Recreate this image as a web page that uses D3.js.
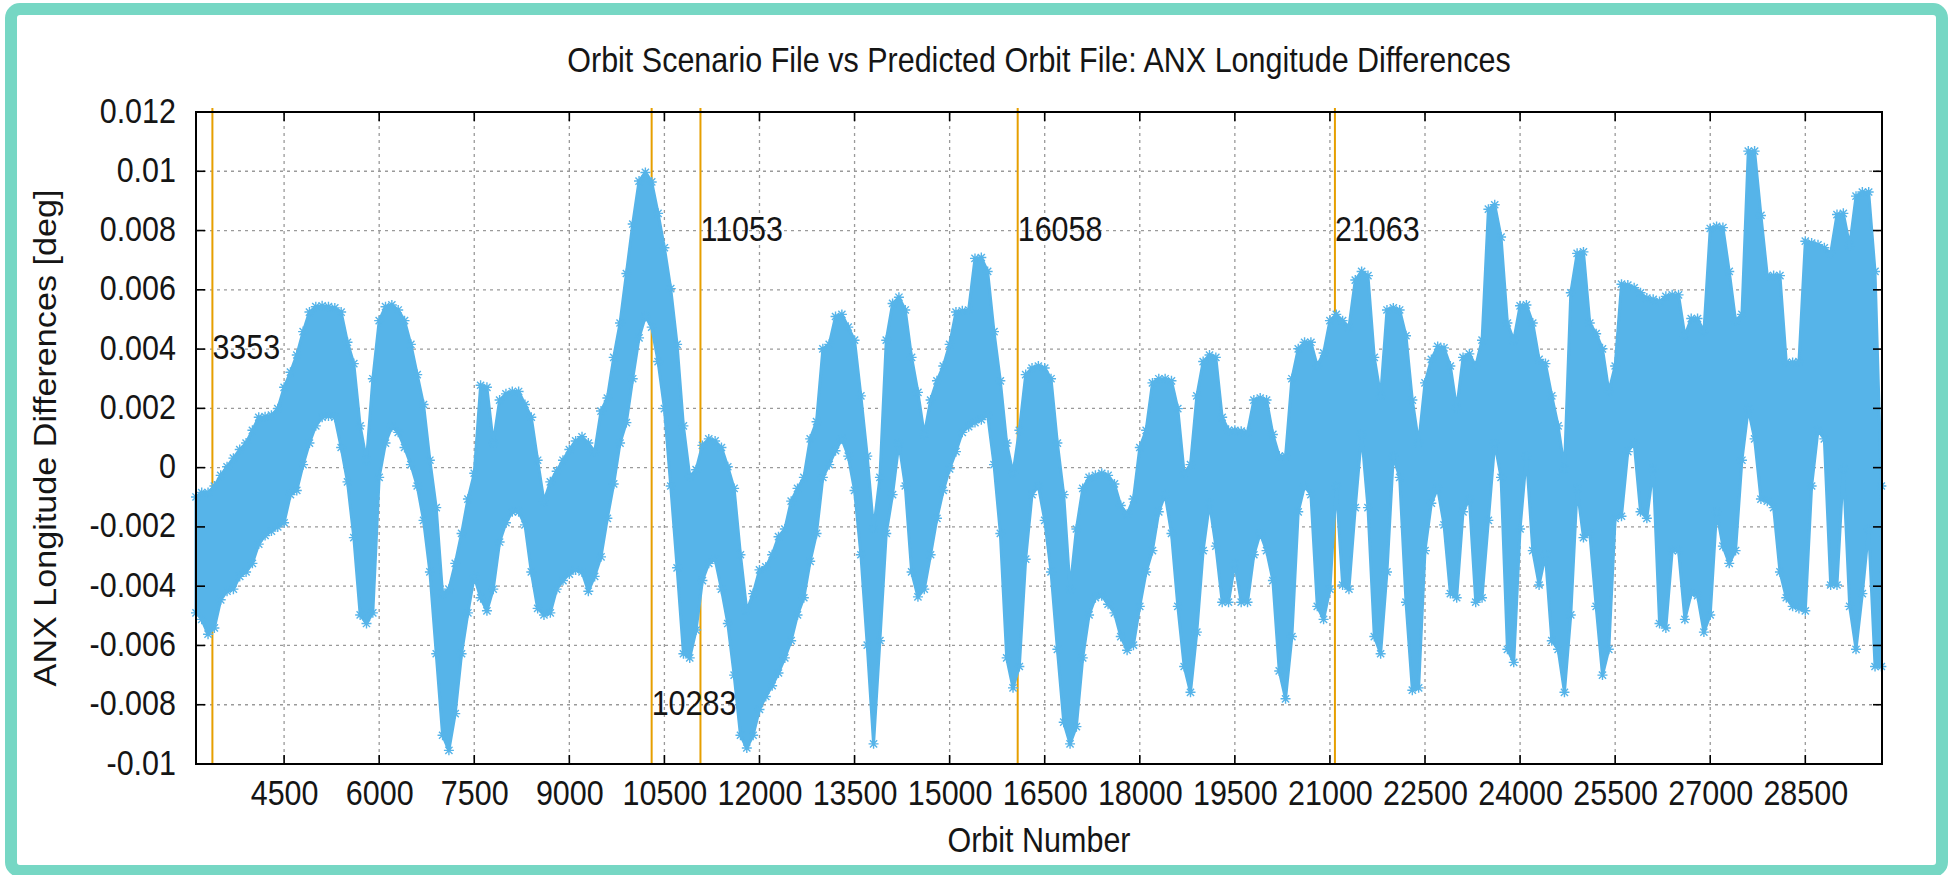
<!DOCTYPE html>
<html>
<head>
<meta charset="utf-8">
<script src="https://cdn.jsdelivr.net/npm/d3@7"></script>
<style>
  body { margin: 0; background: #ffffff; }
  text { font-family: "Liberation Sans", Arial, sans-serif; fill: #151515; }
</style>
</head>
<body>
<div id="main"></div>
<script>
// **** Data (orbit number vs envelope of the ANX longitude differences, 1e-3 deg) ****
var orbits = [3110,
  3200,3300,3400,3500,3600,3700,3800,3900,4000,
  4100,4200,4300,4400,4500,4600,4700,4800,4900,5000,
  5100,5200,5300,5400,5500,5600,5700,5800,5900,6000,
  6100,6200,6300,6400,6500,6600,6700,6800,6900,7000,
  7100,7200,7300,7400,7500,7600,7700,7800,7900,8000,
  8100,8200,8300,8400,8500,8600,8700,8800,8900,9000,
  9100,9200,9300,9400,9500,9600,9700,9800,9900,10000,
  10100,10200,10300,10400,10500,10600,10700,10800,10900,11000,
  11100,11200,11300,11400,11500,11600,11700,11800,11900,12000,
  12100,12200,12300,12400,12500,12600,12700,12800,12900,13000,
  13100,13200,13300,13400,13500,13600,13700,13800,13900,14000,
  14100,14200,14300,14400,14500,14600,14700,14800,14900,15000,
  15100,15200,15300,15400,15500,15600,15700,15800,15900,16000,
  16100,16200,16300,16400,16500,16600,16700,16800,16900,17000,
  17100,17200,17300,17400,17500,17600,17700,17800,17900,18000,
  18100,18200,18300,18400,18500,18600,18700,18800,18900,19000,
  19100,19200,19300,19400,19500,19600,19700,19800,19900,20000,
  20100,20200,20300,20400,20500,20600,20700,20800,20900,21000,
  21100,21200,21300,21400,21500,21600,21700,21800,21900,22000,
  22100,22200,22300,22400,22500,22600,22700,22800,22900,23000,
  23100,23200,23300,23400,23500,23600,23700,23800,23900,24000,
  24100,24200,24300,24400,24500,24600,24700,24800,24900,25000,
  25100,25200,25300,25400,25500,25600,25700,25800,25900,26000,
  26100,26200,26300,26400,26500,26600,26700,26800,26900,27000,
  27100,27200,27300,27400,27500,27600,27700,27800,27900,28000,
  28100,28200,28300,28400,28500,28600,28700,28800,28900,29000,
  29100,29200,29300,29400,29500,29600,29700];

var upperMdeg = [-0.99,
  -0.84,-0.84,-0.62,-0.26,0.03,0.32,0.61,0.83,1.26,
  1.70,1.72,1.77,1.99,2.71,3.22,3.80,4.59,5.25,5.43,
  5.46,5.43,5.39,5.25,4.23,3.51,1.41,0.25,3.00,4.96,
  5.43,5.49,5.32,4.96,4.16,3.14,2.13,0.25,-1.35,-4.25,
  -4.10,-3.23,-2.22,-1.06,-0.19,2.78,2.71,0.83,2.28,2.49,
  2.57,2.57,2.13,1.70,0.25,-1.13,-0.48,-0.12,0.25,0.61,
  0.90,1.04,0.83,0.54,1.91,2.35,3.72,4.88,6.55,8.22,
  9.67,9.96,9.64,8.58,7.42,6.04,4.16,1.41,-0.30,-0.07,
  0.75,0.97,0.90,0.68,0.03,-0.70,-2.94,-4.83,-4.25,-3.45,
  -3.35,-2.94,-2.33,-2.07,-1.13,-0.70,-0.33,0.97,1.55,4.01,
  4.16,5.10,5.17,4.74,4.30,2.42,0.39,-2.07,-0.33,4.30,
  5.54,5.75,5.32,3.72,2.54,1.12,2.28,2.93,3.43,4.16,
  5.25,5.29,5.32,7.06,7.09,6.62,4.59,2.93,0.83,-0.19,
  1.26,3.14,3.36,3.43,3.36,3.00,0.83,-0.91,-4.10,-2.07,
  -0.70,-0.33,-0.26,-0.19,-0.26,-0.55,-1.28,-1.57,-1.06,0.68,
  1.26,2.86,3.00,3.00,2.93,1.99,-0.19,0.10,2.42,3.58,
  3.80,3.72,1.70,1.26,1.26,1.23,1.19,2.28,2.35,2.28,
  1.12,0.39,0.39,3.00,4.01,4.23,4.23,3.43,3.87,4.96,
  5.17,4.96,4.74,6.33,6.62,6.48,3.72,2.42,5.32,5.39,
  5.32,4.45,2.28,0.83,2.86,3.65,4.09,4.04,3.43,1.99,
  3.72,3.84,3.43,4.30,8.72,8.87,7.78,4.88,4.30,5.46,
  5.49,4.88,3.65,3.51,2.42,1.41,-0.04,5.90,7.23,7.28,
  4.88,4.52,4.01,2.57,3.43,6.19,6.16,6.07,5.90,5.72,
  5.68,5.61,5.78,5.83,5.83,4.45,5.03,5.03,4.59,8.07,
  8.14,8.10,6.62,4.96,5.17,10.68,10.68,8.51,6.48,6.48,
  6.48,3.55,3.55,3.58,7.64,7.58,7.52,7.42,7.23,8.54,
  8.58,7.49,9.16,9.30,9.30,6.62,-0.62];

var lowerMdeg = [-4.90,
  -5.12,-5.62,-5.41,-4.46,-4.17,-4.10,-3.67,-3.52,-3.23,
  -2.58,-2.29,-2.14,-2.00,-1.86,-0.91,-0.77,0.10,0.83,1.41,
  1.70,1.74,1.70,0.68,-0.48,-2.36,-4.97,-5.26,-4.90,-0.33,
  0.83,1.38,1.19,0.68,0.10,-0.62,-1.78,-3.52,-6.28,-9.03,
  -9.54,-8.30,-6.28,-4.90,-3.67,-4.39,-4.83,-4.10,-2.51,-1.86,
  -1.49,-1.49,-1.93,-3.52,-4.75,-4.97,-4.90,-4.10,-3.81,-3.59,
  -3.45,-3.52,-4.17,-3.67,-3.01,-1.71,-0.55,0.83,1.52,3.00,
  4.38,5.10,4.74,3.58,1.99,-0.62,-3.38,-6.28,-6.42,-5.48,
  -3.81,-3.23,-3.09,-4.10,-5.26,-7.00,-9.03,-9.46,-9.03,-8.16,
  -7.72,-7.36,-6.93,-6.42,-5.84,-4.97,-4.39,-3.16,-2.22,-0.33,
  0.10,0.57,0.97,0.39,-0.77,-2.94,-5.99,-9.32,-5.84,-2.22,
  -0.91,0.83,-0.62,-3.52,-4.36,-4.10,-2.94,-1.71,-0.77,-0.04,
  0.54,1.19,1.38,1.52,1.62,1.77,0.10,-2.22,-6.42,-7.43,
  -6.71,-3.09,-0.91,-0.62,-1.78,-3.52,-6.13,-8.59,-9.32,-8.74,
  -6.42,-4.97,-4.39,-4.32,-4.61,-4.90,-5.70,-6.16,-5.99,-4.68,
  -3.52,-2.80,-1.49,-0.91,-2.22,-4.68,-6.71,-7.58,-5.55,-2.80,
  -1.20,-2.65,-4.54,-4.54,-3.23,-4.54,-4.54,-2.94,-2.22,-2.80,
  -3.81,-6.86,-7.80,-5.70,-1.49,-0.62,-0.91,-4.68,-5.12,-4.10,
  -0.62,-3.96,-4.10,-1.35,1.12,-1.35,-5.70,-6.28,-3.52,0.39,
  -0.33,-4.54,-7.51,-7.43,-2.80,-1.20,-0.70,-1.93,-4.25,-4.39,
  -1.49,-1.06,-4.54,-4.39,-1.78,0.83,-0.33,-6.13,-6.57,-2.07,
  0.39,-2.80,-3.96,-2.94,-5.84,-6.13,-7.58,-4.97,-0.70,-2.36,
  -2.22,-4.68,-7.00,-6.13,-1.71,-1.64,0.54,0.83,-1.49,-1.71,
  -0.04,-5.26,-5.41,-2.80,-2.80,-5.12,-4.25,-4.32,-5.55,-4.97,
  -1.49,-2.65,-3.23,-2.80,0.25,1.99,0.97,-1.06,-1.13,-1.35,
  -3.52,-4.39,-4.68,-4.75,-4.83,-0.62,1.26,0.97,-3.96,-3.96,
  -0.04,-4.68,-6.13,-4.25,-2.07,-6.71,-6.71];

// orbit markers (vertical lines) and the level their label sits at
var markerOrbits = [3353, 10283, 11053, 16058, 21063];
var markerLabelLevel = [0.004, -0.008, 0.008, 0.008, 0.008];

var xDomain = [3110, 29710];
var yDomain = [-0.01, 0.012];
var xTicks = [4500, 6000, 7500, 9000, 10500, 12000, 13500, 15000, 16500, 18000,
              19500, 21000, 22500, 24000, 25500, 27000, 28500];
var yTicks = [0.012, 0.01, 0.008, 0.006, 0.004, 0.002, 0, -0.002, -0.004, -0.006, -0.008, -0.01];
var yTickLabels = ["0.012", "0.01", "0.008", "0.006", "0.004", "0.002", "0",
                   "-0.002", "-0.004", "-0.006", "-0.008", "-0.01"];

var titleText = "Orbit Scenario File vs Predicted Orbit File: ANX Longitude Differences";
var xLabel = "Orbit Number";
var yLabel = "ANX Longitude Differences [deg]";

// **** Dimensions ****
var W = 1949, H = 875;
var margin = {top: 112, right: 67, bottom: 111, left: 196},
    width = W - margin.left - margin.right,
    height = H - margin.top - margin.bottom;
var stretch = "scale(1,1.12)";   // the picture's text is a bit taller than wide

var svg = d3.select("#main")
  .append("svg")
    .attr("width", W)
    .attr("height", H);

// **** Teal frame ****
svg.append("rect")
    .attr("x", 11).attr("y", 9)
    .attr("width", W - 18).attr("height", 862)
    .attr("rx", 9)
    .style("fill", "#ffffff")
    .style("stroke", "#76d7c4")
    .style("stroke-width", 12);

var g = svg.append("g")
    .attr("transform", "translate(" + margin.left + "," + margin.top + ")");

// **** Scales ****
var x = d3.scaleLinear().domain(xDomain).range([0, width]);
var y = d3.scaleLinear().domain(yDomain).range([height, 0]);

// **** Grid ****
g.append("g").selectAll("line")
  .data(xTicks).enter().append("line")
    .attr("x1", function(d){ return x(d); })
    .attr("x2", function(d){ return x(d); })
    .attr("y1", 0).attr("y2", height)
    .style("stroke", "#9a9a9a").style("stroke-width", 1.3)
    .style("stroke-dasharray", "3,4");

g.append("g").selectAll("line")
  .data(yTicks.slice(1, -1)).enter().append("line")
    .attr("x1", 0).attr("x2", width)
    .attr("y1", function(d){ return y(d); })
    .attr("y2", function(d){ return y(d); })
    .style("stroke", "#9a9a9a").style("stroke-width", 1.3)
    .style("stroke-dasharray", "3,4");

// **** Orbit marker lines ****
g.append("g").selectAll("line")
  .data(markerOrbits).enter().append("line")
    .attr("x1", function(d){ return x(d) + 1; })
    .attr("x2", function(d){ return x(d) + 1; })
    .attr("y1", -4).attr("y2", height)
    .style("stroke", "#e69f00").style("stroke-width", 2);

// **** Data band ****
var rows = orbits.map(function(o, i){
  return {orbit: o, upper: upperMdeg[i] * 1e-3, lower: lowerMdeg[i] * 1e-3};
});

var area = d3.area()
    .x(function(d){ return x(d.orbit); })
    .y0(function(d){ return y(d.lower); })
    .y1(function(d){ return y(d.upper); });

g.append("path")
    .datum(rows)
    .attr("d", area)
    .style("fill", "#56b4e9")
    .style("stroke", "#56b4e9")
    .style("stroke-width", 3)
    .style("stroke-linejoin", "round");

// star markers along the edges, like gnuplot's pt 3
var star = "M-5,0L5,0M0,-5L0,5M-3.6,-3.6L3.6,3.6M-3.6,3.6L3.6,-3.6";
var edgePts = [];
rows.forEach(function(d){
  edgePts.push({orbit: d.orbit, v: d.upper});
  edgePts.push({orbit: d.orbit, v: d.lower});
});
g.append("g").selectAll("path")
  .data(edgePts).enter().append("path")
    .attr("transform", function(d){ return "translate(" + x(d.orbit) + "," + y(d.v) + ")"; })
    .attr("d", star)
    .style("stroke", "#56b4e9").style("stroke-width", 1.4)
    .style("fill", "none");

// **** Marker labels ****
g.append("g").selectAll("text")
  .data(markerOrbits).enter().append("text")
    .attr("transform", function(d, i){
      return "translate(" + (x(d) + 1) + "," + (y(markerLabelLevel[i]) + 10) + ") " + stretch; })
    .text(function(d){ return d; })
    .style("font-size", "30.5px");

// **** Axes ****
var xAxis = g.append("g")
    .attr("transform", "translate(0," + height + ")")
    .call(d3.axisBottom(x).tickValues(xTicks).tickSize(0).tickPadding(0)
      .tickFormat(d3.format("d")));
xAxis.select(".domain").remove();
xAxis.selectAll("text")
    .attr("y", 0).attr("dy", null)
    .attr("transform", "translate(0,41) " + stretch)
    .style("font-size", "30.5px");

var yAxis = g.append("g")
    .call(d3.axisLeft(y).tickValues(yTicks).tickSize(0).tickPadding(0)
      .tickFormat(function(d, i){ return yTickLabels[i]; }));
yAxis.select(".domain").remove();
yAxis.selectAll("text")
    .attr("x", -20).attr("dy", null)
    .attr("transform", "translate(0,10) " + stretch)
    .style("font-size", "30.5px");

// inward tick marks on all four sides
var tl = 9;
var tickG = g.append("g").style("stroke", "#000").style("stroke-width", 1.6);
xTicks.forEach(function(t){
  tickG.append("line").attr("x1", x(t)).attr("x2", x(t)).attr("y1", height).attr("y2", height - tl);
  tickG.append("line").attr("x1", x(t)).attr("x2", x(t)).attr("y1", 0).attr("y2", tl);
});
yTicks.forEach(function(t){
  tickG.append("line").attr("x1", 0).attr("x2", tl).attr("y1", y(t)).attr("y2", y(t));
  tickG.append("line").attr("x1", width).attr("x2", width - tl).attr("y1", y(t)).attr("y2", y(t));
});

// border
g.append("rect")
    .attr("width", width).attr("height", height)
    .style("fill", "none").style("stroke", "#000").style("stroke-width", 2);

// **** Titles ****
svg.append("text")
    .attr("transform", "translate(" + (margin.left + width / 2) + ",72) " + stretch)
    .attr("text-anchor", "middle")
    .text(titleText)
    .style("font-size", "30.5px");

svg.append("text")
    .attr("transform", "translate(" + (margin.left + width / 2) + ",852) " + stretch)
    .attr("text-anchor", "middle")
    .text(xLabel)
    .style("font-size", "30.5px");

svg.append("text")
    .attr("transform", "translate(45," + (margin.top + height / 2) + ") " + stretch + " rotate(-90)")
    .attr("text-anchor", "middle")
    .attr("dy", "0.35em")
    .text(yLabel)
    .style("font-size", "30.5px");
</script>
</body>
</html>
